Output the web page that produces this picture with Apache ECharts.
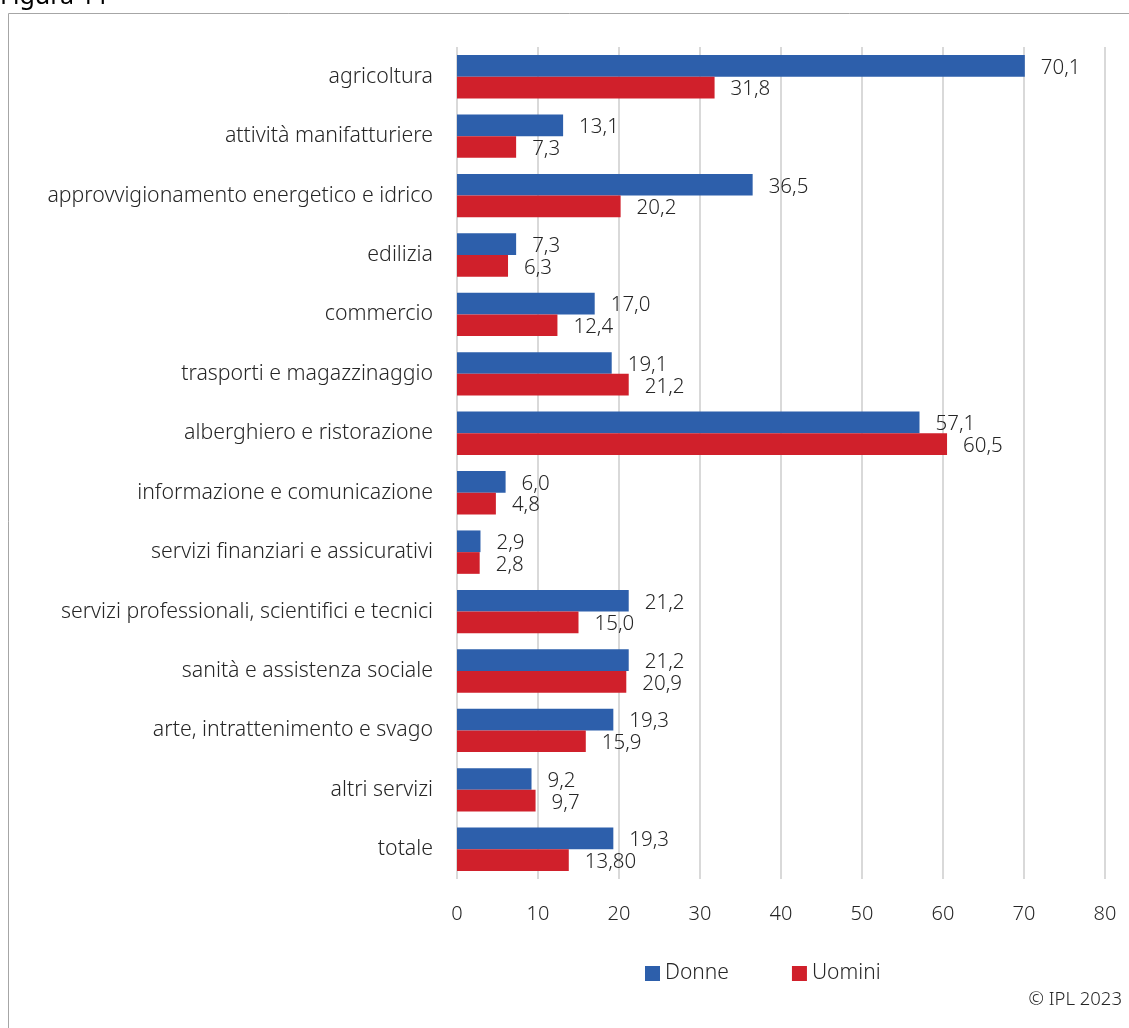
<!DOCTYPE html>
<html><head><meta charset="utf-8">
<script src="https://cdn.jsdelivr.net/npm/echarts@6/dist/echarts.min.js"></script>
<style>html,body{margin:0;padding:0;background:#fff}#c{width:1129px;height:1028px}</style>
</head><body><div id="c"></div>
<script>
const categories = ["agricoltura","attività manifatturiere","approvvigionamento energetico e idrico","edilizia","commercio","trasporti e magazzinaggio","alberghiero e ristorazione","informazione e comunicazione","servizi finanziari e assicurativi","servizi professionali, scientifici e tecnici","sanità e assistenza sociale","arte, intrattenimento e svago","altri servizi","totale"];
const donne = [70.1,13.1,36.5,7.3,17.0,19.1,57.1,6.0,2.9,21.2,21.2,19.3,9.2,19.3];
const uomini = [31.8,7.3,20.2,6.3,12.4,21.2,60.5,4.8,2.8,15.0,20.9,15.9,9.7,13.80];
const donneLabels = ["70,1","13,1","36,5","7,3","17,0","19,1","57,1","6,0","2,9","21,2","21,2","19,3","9,2","19,3"];
const uominiLabels = ["31,8","7,3","20,2","6,3","12,4","21,2","60,5","4,8","2,8","15,0","20,9","15,9","9,7","13,80"];
const xTicks = [0,10,20,30,40,50,60,70,80];

const FONT = '"Noto Sans"';
const W = 300;
const chart = echarts.init(document.getElementById('c'), null, {renderer:'canvas'});
chart.setOption({
  animation:false,
  textStyle:{fontFamily:FONT},
  graphic:[
    {type:'rect', shape:{x:8.5,y:13.5,width:1200,height:1100}, style:{fill:'none',stroke:'#a6a6a6',lineWidth:1}, silent:true},
    {type:'text', left:0, top:-16, style:{text:'Figura 11', font:'25px '+FONT, fill:'#000'}},
    {type:'text', right:7, top:990, style:{text:'© IPL 2023', font:W+' 18.5px '+FONT, fill:'#262626'}}
  ],
  legend:{
    data:['Donne','Uomini'], left:640, top:958, itemWidth:15, itemHeight:15, itemGap:63, icon:'rect',
    textStyle:{fontSize:21, fontWeight:W, color:'#262626', fontFamily:FONT}
  },
  grid:{left:457, right:24, top:47, bottom:149, containLabel:false},
  xAxis:{
    type:'value', min:0, max:80, interval:10,
    axisLine:{show:false}, axisTick:{show:false},
    axisLabel:{fontSize:20, fontWeight:W, color:'#262626', margin:25, fontFamily:FONT, formatter:v=>String(v)},
    splitLine:{lineStyle:{color:'#d9d9d9', width:2}}
  },
  yAxis:{
    type:'category', data:categories, inverse:true,
    axisLine:{show:false}, axisTick:{show:false},
    axisLabel:{fontSize:21.3, fontWeight:W, color:'#262626', margin:24, fontFamily:FONT, padding:[3,0,0,0]}
  },
  series:[
    {name:'Donne', type:'bar', data:donne, barGap:'0%', barCategoryGap:'27%',
     itemStyle:{color:'#2d5fab'},
     label:{show:true, position:'right', distance:16, offset:[0,2], fontSize:20.5, fontWeight:W, color:'#262626', fontFamily:FONT,
            formatter:p=>donneLabels[p.dataIndex]}},
    {name:'Uomini', type:'bar', data:uomini, barGap:'0%', barCategoryGap:'27%',
     itemStyle:{color:'#d0202b'},
     label:{show:true, position:'right', distance:16, offset:[0,2], fontSize:20.5, fontWeight:W, color:'#262626', fontFamily:FONT,
            formatter:p=>uominiLabels[p.dataIndex]}}
  ]
});
</script></body></html>
